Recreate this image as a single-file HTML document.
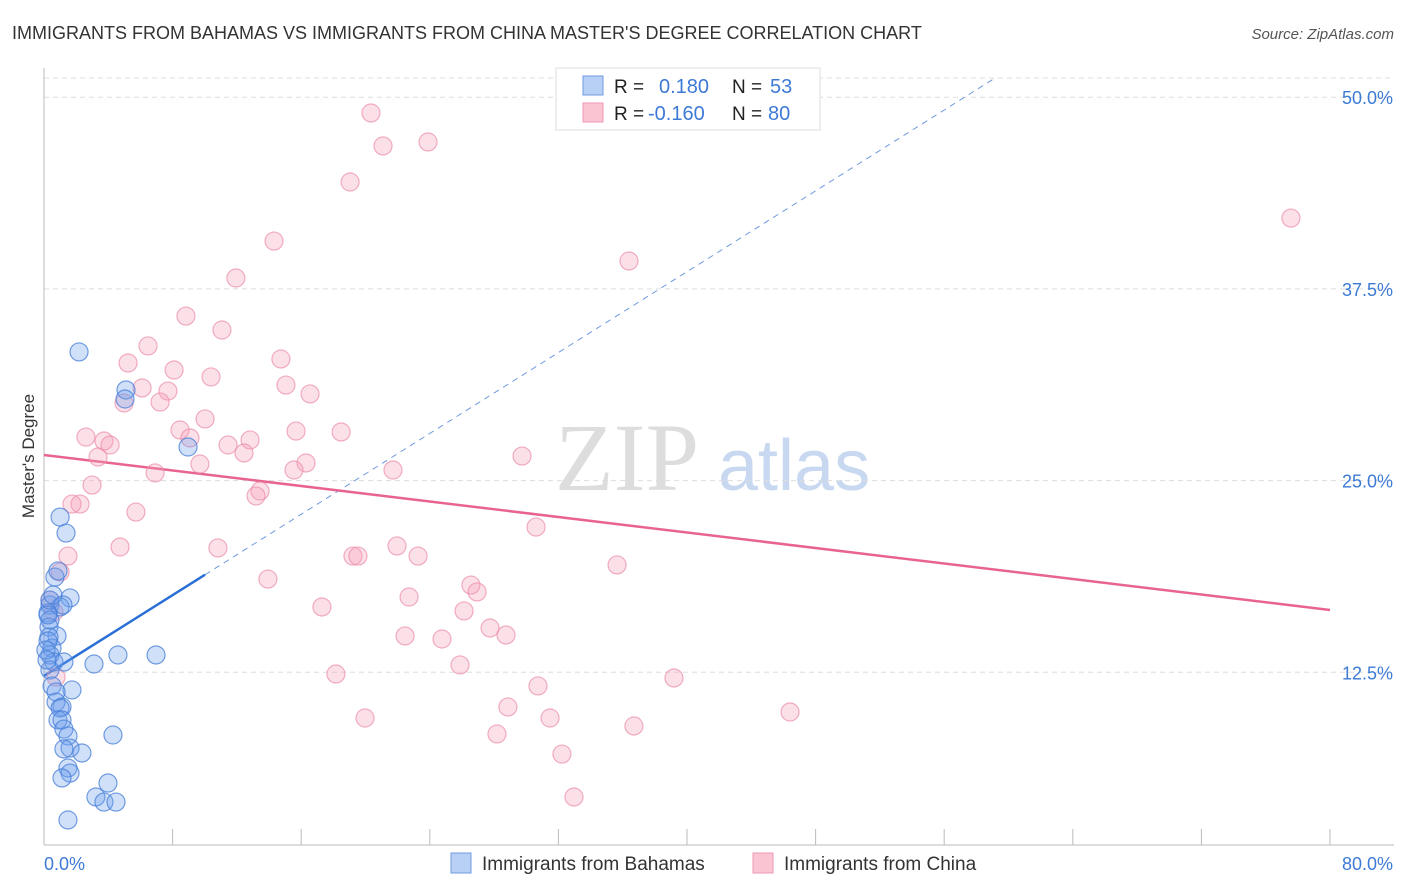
<!DOCTYPE html>
<html><head><meta charset="utf-8"><style>
body{margin:0;background:#fff;font-family:"Liberation Sans",sans-serif;}
svg{display:block}
</style></head><body>
<svg id="chart" width="1406" height="892" font-family="Liberation Sans, sans-serif">
<text x="12" y="39" font-size="18" fill="#333">IMMIGRANTS FROM BAHAMAS VS IMMIGRANTS FROM CHINA MASTER'S DEGREE CORRELATION CHART</text>
<text x="1394" y="39" font-size="15" fill="#555" font-style="italic" text-anchor="end">Source: ZipAtlas.com</text>
<text x="555" y="490" font-size="96" fill="#ddd" font-family="Liberation Serif, serif">ZIP</text>
<text x="718" y="490" font-size="72" fill="#c8d8f0">atlas</text>
<text transform="translate(34,456) rotate(-90)" font-size="17" fill="#333" text-anchor="middle">Master's Degree</text>
<g id="grid"></g><g id="axes"></g><g id="trends"></g><g id="pts"></g>
<g>
<rect x="556" y="68" width="264" height="62" fill="#fff" stroke="#ddd"/>
<rect x="583" y="76" width="20" height="19" fill="#b8d0f5" stroke="#6f9ae0"/>
<rect x="583" y="103" width="20" height="19" fill="#fac4d3" stroke="#ef9ab4"/>
<text x="614" y="93" font-size="19" fill="#222">R = </text><text x="659" y="93" font-size="20" fill="#3d7ad6">0.180</text>
<text x="732" y="93" font-size="19" fill="#222">N = </text><text x="770" y="93" font-size="20" fill="#3d7ad6">53</text>
<text x="614" y="120" font-size="19" fill="#222">R = </text><text x="648" y="120" font-size="20" fill="#3d7ad6">-0.160</text>
<text x="732" y="120" font-size="19" fill="#222">N = </text><text x="768" y="120" font-size="20" fill="#3d7ad6">80</text>
</g>
<g>
<rect x="451" y="853" width="20" height="20" fill="#b8d0f5" stroke="#6f9ae0"/>
<text x="482" y="870" font-size="19" fill="#333">Immigrants from Bahamas</text>
<rect x="753" y="853" width="20" height="20" fill="#fac4d3" stroke="#ef9ab4"/>
<text x="784" y="870" font-size="19" fill="#333">Immigrants from China</text>
</g>
</svg>
<script>
const yTicks=[50,37.5,25,12.5];
const yTickLabels=["50.0%","37.5%","25.0%","12.5%"];
const xTickVals=[0,8,16,24,32,40,48,56,64,72,80];
const blueX=[2.18,5.10,5.04,8.96,1.00,1.37,0.68,0.87,1.62,0.37,1.00,0.25,0.37,0.31,0.81,0.31,0.50,0.37,0.62,1.24,3.11,4.60,6.97,0.37,0.50,1.74,0.75,0.75,1.12,1.00,0.87,1.12,1.24,1.49,4.29,1.62,2.36,1.24,1.49,1.62,1.12,3.98,3.23,3.73,4.48,1.49,0.25,0.12,0.19,0.37,0.25,0.56,1.18];
const blueY=[33.39,30.91,30.32,27.19,22.62,21.58,18.71,19.11,17.35,16.89,16.76,16.37,15.91,15.45,14.87,14.80,14.08,13.63,13.17,13.17,13.04,13.63,13.63,12.65,11.61,11.35,11.22,10.56,10.24,10.17,9.39,9.39,8.80,8.35,8.41,7.56,7.24,7.50,6.26,5.93,5.61,5.28,4.37,4.04,4.04,2.87,14.54,13.95,13.30,17.21,16.24,17.54,16.89];
const pinkX=[20.34,23.89,21.09,19.04,77.57,14.31,36.39,11.94,8.83,11.07,6.47,5.23,14.74,8.09,10.39,15.05,16.55,6.10,7.71,4.98,7.22,10.02,8.46,9.08,2.61,15.68,18.48,3.73,4.11,11.45,12.82,3.36,12.44,9.70,16.30,15.55,29.74,6.91,21.71,2.99,13.44,13.19,2.24,1.74,5.72,30.61,4.73,10.82,1.49,21.96,19.22,19.53,23.27,35.65,1.00,13.93,26.56,26.94,22.71,17.29,26.13,27.75,28.74,22.46,24.76,25.88,18.16,39.19,30.73,28.86,19.97,31.48,36.70,46.41,28.18,32.22,32.97,0.62,0.75,0.37];
const pinkY=[48.97,47.08,46.82,44.47,42.12,40.62,39.32,38.21,35.73,34.82,33.78,32.67,32.93,32.21,31.76,31.23,30.65,31.04,30.84,30.06,30.12,29.02,28.30,27.78,27.84,28.23,28.17,27.58,27.32,27.32,27.65,26.54,26.80,26.08,26.15,25.69,26.60,25.50,25.69,24.71,24.32,24.00,23.47,23.47,22.95,21.97,20.67,20.61,20.08,20.74,20.08,20.08,20.08,19.50,19.04,18.58,18.19,17.74,17.41,16.76,16.50,15.39,14.93,14.87,14.67,12.98,12.39,12.13,11.61,10.24,9.52,9.52,9.00,9.91,8.48,7.17,4.37,16.43,12.19,17.21];
const blueTrend=[12.26,0.659,10.02,59.16]; // intercept, slope, solid end x, dashed end x
const pinkTrend=[26.67,16.56]; // y at 0, y at 80
const NS="http://www.w3.org/2000/svg";
const sx=v=>44+v*16.075, sy=v=>864-v*15.336;
function mk(tag,attrs,parent){const e=document.createElementNS(NS,tag);for(const k in attrs)e.setAttribute(k,attrs[k]);parent.appendChild(e);return e;}
const grid=document.getElementById('grid'),axes=document.getElementById('axes'),trends=document.getElementById('trends'),pts=document.getElementById('pts');
let gt=mk('line',{x1:44,x2:1394,y1:78,y2:78,stroke:'#ddd','stroke-dasharray':'5,4'},grid);


yTicks.forEach((t,i)=>{
 const l=mk('line',{x1:44,x2:1394,y1:sy(t),y2:sy(t),stroke:'#ddd','stroke-dasharray':'5,4'},grid);
 
 
 const tx=mk('text',{x:1393,y:sy(t)+7,'font-size':18,fill:'#3d7ad6','text-anchor':'end'},axes);
 tx.textContent=yTickLabels[i];
 
 
});
let ax=mk('line',{x1:44,x2:44,y1:68,y2:845,stroke:'#bbb'},axes);


let bx=mk('line',{x1:44,x2:1394,y1:845,y2:845,stroke:'#bbb'},axes);


xTickVals.forEach(v=>{
 const t=mk('line',{x1:sx(v),x2:sx(v),y1:829,y2:845,stroke:'#bbb'},axes);
 
 
});
let xl0=mk('text',{x:44,y:870,'font-size':18,fill:'#3d7ad6'},axes);xl0.textContent=xTickVals[0].toFixed(1)+'%';


let xl1=mk('text',{x:1393,y:870,'font-size':18,fill:'#3d7ad6','text-anchor':'end'},axes);xl1.textContent=xTickVals[xTickVals.length-1].toFixed(1)+'%';


function dot(x,y,fill,stroke,name){const c=mk('circle',{cx:sx(x),cy:sy(y),r:9,fill:fill,stroke:stroke,'stroke-width':1.2},pts);
 
 }
pinkX.forEach((x,i)=>dot(x,pinkY[i],'rgba(245,160,185,0.32)','rgba(235,140,170,0.7)','china-point'));
blueX.forEach((x,i)=>dot(x,blueY[i],'rgba(110,160,235,0.32)','rgba(70,125,215,0.75)','bahamas-point'));
const bf=x=>blueTrend[0]+blueTrend[1]*x;
let bs=mk('line',{x1:sx(0),y1:sy(bf(0)),x2:sx(blueTrend[2]),y2:sy(bf(blueTrend[2])),stroke:'#2a6fd6','stroke-width':2.5},trends);


let bd=mk('line',{x1:sx(blueTrend[2]),y1:sy(bf(blueTrend[2])),x2:sx(blueTrend[3]),y2:sy(bf(blueTrend[3])),stroke:'#6f9ae0','stroke-width':1,'stroke-dasharray':'6,5'},trends);


let pt=mk('line',{x1:sx(0),y1:sy(pinkTrend[0]),x2:sx(80),y2:sy(pinkTrend[1]),stroke:'#e8648f','stroke-width':2.5},trends);


</script>
</body></html>
